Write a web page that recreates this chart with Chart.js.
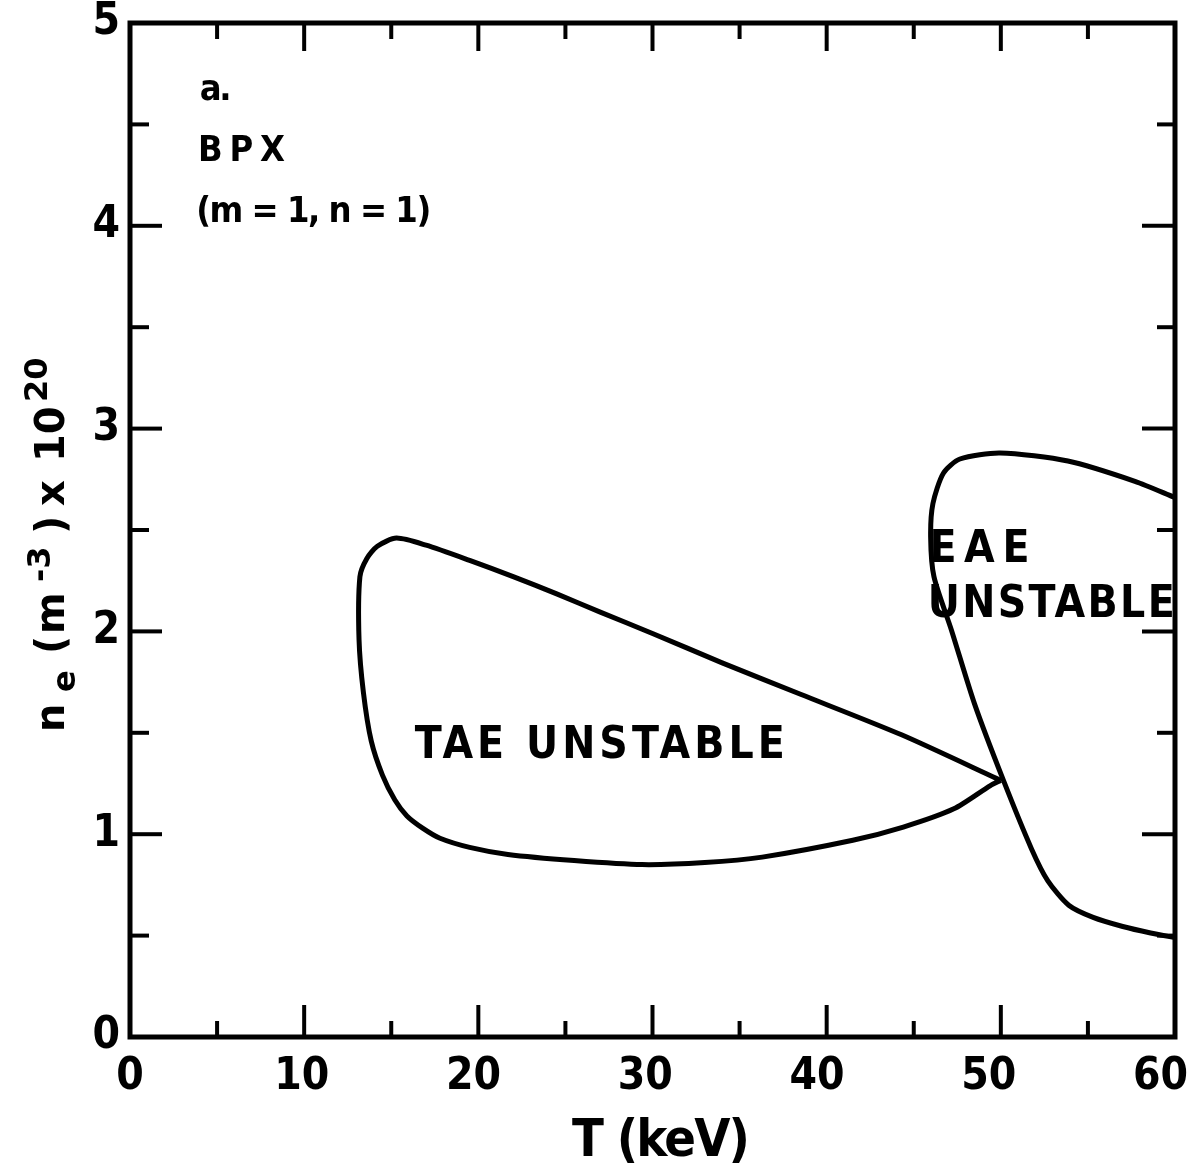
<!DOCTYPE html>
<html>
<head>
<meta charset="utf-8">
<script src="https://cdn.jsdelivr.net/npm/chart.js@4.4.1/dist/chart.umd.min.js"></script>
<style>
  html, body { margin: 0; padding: 0; background: #fff; }
  #wrap { width: 1194px; height: 1167px; }
</style>
</head>
<body>
<div id="wrap"><canvas id="c" width="1194" height="1167"></canvas></div>
<script>
// ---- Data ----
// TAE unstable region boundary (closed loop, starting and ending at the cusp)
const taeT = [50.0, 44.3, 38.5, 34.0, 30.0, 27.0, 24.5, 22.0, 19.5, 17.0, 15.3, 14.2, 13.6, 13.2, 13.15, 13.4, 13.85, 14.5, 15.2, 15.9, 16.8, 17.8, 19.5, 21.7, 25.5, 29.4, 33.0, 36.3, 41.5, 44.4, 47.3, 49.4, 50.0];
const taeN = [1.265, 1.49, 1.69, 1.845, 1.99, 2.095, 2.185, 2.27, 2.35, 2.425, 2.46, 2.42, 2.36, 2.27, 1.96, 1.70, 1.46, 1.29, 1.17, 1.09, 1.03, 0.98, 0.935, 0.90, 0.87, 0.85, 0.86, 0.887, 0.97, 1.035, 1.125, 1.24, 1.265];
// EAE unstable region boundary (open curve, both ends on the right frame)
const eaeT = [60, 57.7, 53.85, 49.96, 47.65, 46.7, 46.1, 45.97, 46.16, 47.17, 48.5, 50.15, 51.75, 52.7, 53.9, 55.3, 57.0, 58.6, 60];
const eaeN = [2.66, 2.74, 2.84, 2.88, 2.85, 2.78, 2.63, 2.465, 2.27, 2.005, 1.64, 1.265, 0.93, 0.77, 0.65, 0.59, 0.545, 0.513, 0.49];
// Axis tick labels
const xTickLabels = [0, 10, 20, 30, 40, 50, 60];
const yTickLabels = [0, 1, 2, 3, 4, 5];
const xMinorTicks = [5, 15, 25, 35, 45, 55];
const yMinorTicks = [0.5, 1.5, 2.5, 3.5, 4.5];
// Annotations (position in data units, baseline)
const notes = [
  { text: 'a.',             T: 4.0,  n: 4.62,  size: 36, width: 32 },
  { text: 'BPX',            T: 3.9,  n: 4.32,  size: 36, width: 87 },
  { text: '(m = 1, n = 1)', T: 3.8,  n: 4.02,  size: 36, width: 235 },
  { text: 'TAE UNSTABLE',   T: 16.35, n: 1.376, size: 44, width: 370 },
  { text: 'EAE',            T: 45.9, n: 2.34,  size: 44, width: 100 },
  { text: 'UNSTABLE',       T: 45.8, n: 2.07,  size: 44, width: 247 }
];

const FAM = '"DejaVu Sans Condensed", "DejaVu Sans", sans-serif';
const FAMW = '"DejaVu Sans", sans-serif';
const pts = (xs, ys) => xs.map((v, i) => ({ x: v, y: ys[i] }));

function drawFitted(ctx, text, x, y, size, width) {
  ctx.font = 'bold ' + size + 'px ' + FAM;
  ctx.letterSpacing = '0px';
  const w = ctx.measureText(text).width;
  const n = text.length;
  const sp = n > 1 ? (width - w) / (n - 1) : 0;
  ctx.letterSpacing = sp + 'px';
  ctx.fillText(text, x, y);
  ctx.letterSpacing = '0px';
}

const decor = {
  id: 'decor',
  afterDatasetsDraw(chart) {
    const ctx = chart.ctx, ca = chart.chartArea;
    const xs = chart.scales.x, ys = chart.scales.y;
    ctx.save();
    ctx.strokeStyle = '#000';
    ctx.lineCap = 'butt';
    // frame
    ctx.lineWidth = 5;
    ctx.strokeRect(ca.left, ca.top, ca.right - ca.left, ca.bottom - ca.top);
    // ticks (inward)
    ctx.lineWidth = 4;
    const seg = (x1, y1, x2, y2) => { ctx.beginPath(); ctx.moveTo(x1, y1); ctx.lineTo(x2, y2); ctx.stroke(); };
    xTickLabels.slice(1, -1).forEach(v => {
      const p = xs.getPixelForValue(v);
      seg(p, ca.bottom, p, ca.bottom - 32);
      seg(p, ca.top, p, ca.top + 28);
    });
    xMinorTicks.forEach(v => {
      const p = xs.getPixelForValue(v);
      seg(p, ca.bottom, p, ca.bottom - 16);
      seg(p, ca.top, p, ca.top + 16);
    });
    yTickLabels.slice(1, -1).forEach(v => {
      const p = ys.getPixelForValue(v);
      seg(ca.left, p, ca.left + 32, p);
      seg(ca.right, p, ca.right - 33, p);
    });
    yMinorTicks.forEach(v => {
      const p = ys.getPixelForValue(v);
      seg(ca.left, p, ca.left + 19, p);
      seg(ca.right, p, ca.right - 18, p);
    });
    ctx.fillStyle = '#000';
    // x tick labels
    ctx.font = 'bold 44px ' + FAM;
    ctx.textAlign = 'center';
    ctx.textBaseline = 'alphabetic';
    xTickLabels.forEach(v => {
      ctx.fillText(String(v), xs.getPixelForValue(v) - v * 0.24, ca.bottom + 52);
    });
    // annotations
    ctx.textAlign = 'left';
    notes.forEach(a => {
      drawFitted(ctx, a.text, xs.getPixelForValue(a.T), ys.getPixelForValue(a.n), a.size, a.width);
    });
    // x title
    drawFitted(ctx, 'T (keV)', 572, 1156, 52, 178);
    // y title (rotated)
    ctx.save();
    ctx.translate(64, 732);
    ctx.rotate(-Math.PI / 2);
    const big = 'bold 40px ' + FAMW, small = 'bold 32px ' + FAMW;
    const pieces = [
      ['n', big, 0, 0], ['e', small, 40, 11], ['(', big, 78, 0], ['m', big, 98, 0],
      ['-3', small, 150, -14], [')', big, 198, 0], ['x', big, 226, 0],
      ['10', big, 270, 0], ['20', small, 330, -17]
    ];
    pieces.forEach(p => { ctx.font = p[1]; ctx.fillText(p[0], p[2], p[3]); });
    ctx.restore();
    ctx.restore();
  }
};

new Chart(document.getElementById('c'), {
  type: 'scatter',
  data: {
    datasets: [
      { data: pts(taeT, taeN), showLine: true, borderColor: '#000', borderWidth: 5, pointRadius: 0, tension: 0.25, fill: false },
      { data: pts(eaeT, eaeN), showLine: true, borderColor: '#000', borderWidth: 5, pointRadius: 0, tension: 0.25, fill: false }
    ]
  },
  options: {
    responsive: false,
    animation: false,
    devicePixelRatio: 1,
    layout: { padding: { top: 23, right: 19, left: 0, bottom: 0 } },
    plugins: { legend: { display: false }, tooltip: { enabled: false } },
    scales: {
      x: {
        type: 'linear', min: 0, max: 60,
        afterFit: s => { s.height = 130; s.paddingLeft = 0; s.paddingRight = 0; },
        grid: { display: false, drawTicks: false },
        border: { display: false },
        ticks: { display: false, stepSize: 10 }
      },
      y: {
        type: 'linear', min: 0, max: 5,
        afterFit: s => { s.width = 130; s.paddingTop = 0; s.paddingBottom = 0; },
        grid: { display: false, drawTicks: false },
        border: { display: false },
        ticks: { stepSize: 1, padding: 10, color: '#000', font: { family: FAM, size: 44, weight: 'bold' },
                 callback: v => yTickLabels.includes(v) ? String(v) : '' }
      }
    }
  },
  plugins: [decor]
});
</script>
</body>
</html>
